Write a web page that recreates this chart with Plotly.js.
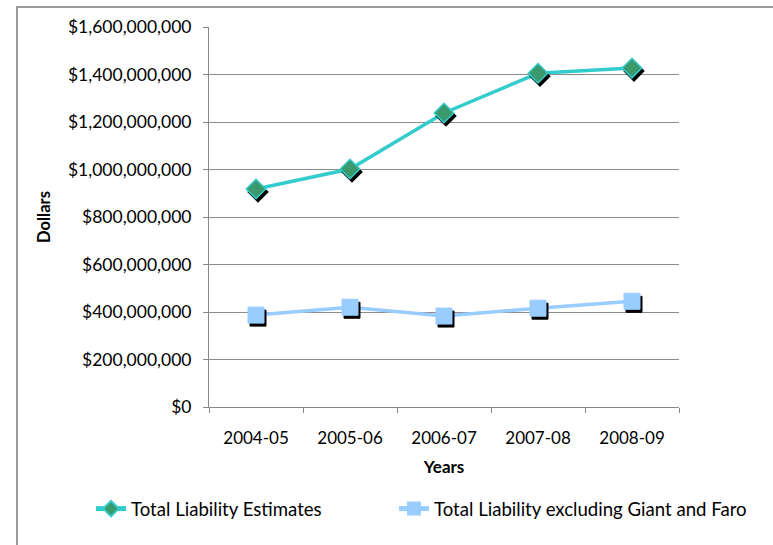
<!DOCTYPE html>
<html>
<head>
<meta charset="utf-8">
<script src="https://cdn.plot.ly/plotly-3.0.1.min.js"></script>
<style>
  html, body { margin: 0; padding: 0; background: #fff; overflow: hidden; }
  #wrap { position: relative; width: 773px; height: 545px; }
  #frame { position: absolute; left: 16px; top: 6px; width: 800px; height: 600px;
           border-left: 2px solid #9a9a9a; border-top: 2px solid #9a9a9a; pointer-events: none; }
  .scatterlayer path.point { filter: drop-shadow(2px 3px 0 #000); }
</style>
</head>
<body>
<div id="wrap">
  <div id="chart" style="width:773px;height:545px;"></div>
  <div id="frame"></div>
</div>
<script>
const years = ["2004-05", "2005-06", "2006-07", "2007-08", "2008-09"];
const totalLiability = [918000000, 1002000000, 1238000000, 1405000000, 1427000000];
const excludingGiantFaro = [387000000, 420000000, 383000000, 416000000, 445000000];
const seriesNames = ["Total Liability Estimates", "Total Liability excluding Giant and Faro"];

const font = "Lato, 'Open Sans', sans-serif";

const traces = [
  {
    x: years, y: totalLiability, name: seriesNames[0], type: "scatter", mode: "lines+markers",
    legend: "legend",
    line: { color: "#33CCCC", width: 3.5 },
    marker: { symbol: "diamond", size: 15, color: "#3A9A6C", line: { color: "#33CCCC", width: 1.5 } }
  },
  {
    x: years, y: excludingGiantFaro, name: seriesNames[1], type: "scatter", mode: "lines+markers",
    legend: "legend2",
    line: { color: "#99CCFF", width: 3.5 },
    marker: { symbol: "square", size: 16, color: "#99CCFF", line: { color: "#99CCFF", width: 1 } }
  }
];

const legendBase = {
  orientation: "h", xref: "container", yref: "container",
  xanchor: "left", y: 36 / 545, yanchor: "middle", itemsizing: "constant",
  font: { size: 18.6 }, bgcolor: "rgba(0,0,0,0)"
};

const layout = {
  width: 773, height: 545,
  margin: { l: 209, r: 94, t: 27, b: 138 },
  paper_bgcolor: "#fff", plot_bgcolor: "#fff",
  font: { family: font, size: 17, color: "#000" },
  showlegend: true,
  xaxis: {
    type: "category", range: [-0.5, 4.5], tickson: "boundaries",
    ticks: "outside", ticklen: 5, tickcolor: "#888", showline: true, linecolor: "#888", linewidth: 1,
    showgrid: false, ticklabelstandoff: 16,
    tickfont: { size: 17 },
    title: { text: "<b>Years</b>", font: { size: 17 }, standoff: 13 }
  },
  yaxis: {
    range: [0, 1600000000], dtick: 200000000, tickformat: "$,.0f",
    ticks: "outside", ticklen: 5, tickcolor: "#888", showline: true, linecolor: "#888", linewidth: 1,
    showgrid: true, gridcolor: "#8c8c8c", gridwidth: 1, zeroline: false,
    ticklabelstandoff: 8,
    tickfont: { size: 17.5 },
    title: { text: "<b>Dollars</b>", font: { size: 16.5 }, standoff: 13 }
  },
  legend: Object.assign({}, legendBase, { x: 91 / 773 }),
  legend2: Object.assign({}, legendBase, { x: 394 / 773 })
};

Plotly.newPlot("chart", traces, layout, { displayModeBar: false, staticPlot: true });
</script>
</body>
</html>
